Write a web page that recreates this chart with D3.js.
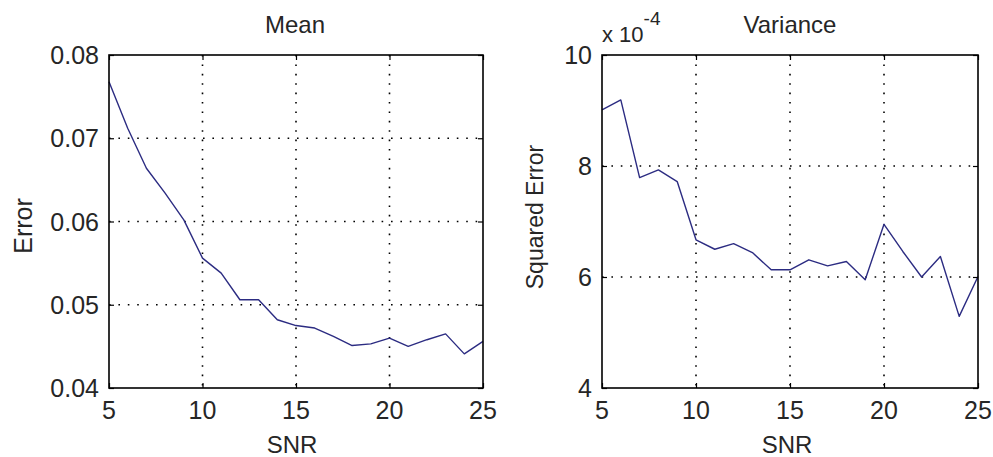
<!DOCTYPE html>
<html>
<head>
<meta charset="utf-8">
<script src="https://cdn.jsdelivr.net/npm/d3@7"></script>
<style>
  html, body { margin: 0; padding: 0; background: #fff; }
  svg { display: block; font-family: "Liberation Sans", Arial, sans-serif; }
</style>
</head>
<body>
<svg id="chart" width="993" height="457"></svg>
<script>
// SNR values shared by both panels
const snr = [5, 6, 7, 8, 9, 10, 11, 12, 13, 14, 15, 16, 17, 18, 19, 20, 21, 22, 23, 24, 25];

// Mean estimation error
const meanError = [0.0768, 0.0712, 0.0664, 0.0634, 0.0602, 0.0556, 0.0538, 0.0506, 0.0506, 0.0482,
                   0.0475, 0.0472, 0.0462, 0.0451, 0.0453, 0.0460, 0.0450, 0.0458, 0.0465, 0.0441, 0.0456];

// Variance estimation squared error
const varianceError = [9.01e-4, 9.19e-4, 7.79e-4, 7.93e-4, 7.72e-4, 6.67e-4, 6.50e-4, 6.60e-4, 6.44e-4, 6.13e-4,
                       6.13e-4, 6.31e-4, 6.20e-4, 6.28e-4, 5.95e-4, 6.95e-4, 6.46e-4, 6.00e-4, 6.37e-4, 5.29e-4, 6.01e-4];

// Tick values
const xTicks = [5, 10, 15, 20, 25];
const meanTicks = [0.04, 0.05, 0.06, 0.07, 0.08];
const varianceTicks = [4e-4, 6e-4, 8e-4, 10e-4];

const svg = d3.select("#chart");
const lineColor = "#2c2c82";
const textColor = "#262626";

function drawPanel(opt) {
  const { left, right, top, bottom } = opt.box;
  const w = right - left, h = bottom - top;
  const g = svg.append("g").attr("transform", `translate(${left},${top})`);

  const x = d3.scaleLinear().domain([5, 25]).range([0, w]);
  const y = d3.scaleLinear().domain(opt.yDomain).range([h, 0]);

  // dotted grid
  const gridX = xTicks.filter(t => t > 5 && t < 25);
  const gridY = opt.yTicks.slice(1, -1);
  g.append("g").selectAll("line").data(gridX).join("line")
    .attr("x1", d => x(d)).attr("x2", d => x(d))
    .attr("y1", 0).attr("y2", h)
    .attr("stroke", "#000").attr("stroke-width", 1.6)
    .attr("stroke-dasharray", "1.6 7.8");
  g.append("g").selectAll("line").data(gridY).join("line")
    .attr("x1", 0).attr("x2", w)
    .attr("y1", d => y(d)).attr("y2", d => y(d))
    .attr("stroke", "#000").attr("stroke-width", 1.6)
    .attr("stroke-dasharray", "1.6 7.8");

  // data line
  const line = d3.line().x((d, i) => x(snr[i])).y(d => y(d));
  g.append("path").datum(opt.values)
    .attr("d", line)
    .attr("fill", "none")
    .attr("stroke", lineColor)
    .attr("stroke-width", 1.4)
    .attr("stroke-linejoin", "round");

  // inward ticks on all four sides
  const tickStyle = sel => {
    sel.select(".domain").remove();
    sel.selectAll(".tick line").attr("stroke", "#000").attr("stroke-width", 1.2);
    sel.selectAll(".tick text").remove();
  };
  g.append("g").attr("transform", `translate(0,${h})`)
    .call(d3.axisBottom(x).tickValues(xTicks).tickSize(-5)).call(tickStyle);
  g.append("g")
    .call(d3.axisTop(x).tickValues(xTicks).tickSize(-5)).call(tickStyle);
  g.append("g")
    .call(d3.axisLeft(y).tickValues(opt.yTicks).tickSize(-5)).call(tickStyle);
  g.append("g").attr("transform", `translate(${w},0)`)
    .call(d3.axisRight(y).tickValues(opt.yTicks).tickSize(-5)).call(tickStyle);

  // axes box
  g.append("rect").attr("x", 0).attr("y", 0).attr("width", w).attr("height", h)
    .attr("fill", "none").attr("stroke", "#000").attr("stroke-width", 1.6);

  // tick labels
  g.append("g").selectAll("text").data(xTicks).join("text")
    .attr("x", d => x(d)).attr("y", h + 31)
    .attr("text-anchor", "middle")
    .attr("font-size", 25).attr("fill", textColor)
    .text(d => d);
  g.append("g").selectAll("text").data(opt.yTicks).join("text")
    .attr("x", -10).attr("y", d => y(d))
    .attr("dy", "0.36em")
    .attr("text-anchor", "end")
    .attr("font-size", 25).attr("fill", textColor)
    .text(opt.yFormat);

  // title
  svg.append("text")
    .attr("x", opt.titleX).attr("y", 33)
    .attr("text-anchor", "middle")
    .attr("font-size", 24).attr("fill", textColor)
    .text(opt.title);

  // x label
  svg.append("text")
    .attr("x", opt.xLabelX).attr("y", 453)
    .attr("text-anchor", "middle")
    .attr("font-size", 24).attr("fill", textColor)
    .text("SNR");

  // y label
  svg.append("text")
    .attr("transform", `translate(${opt.yLabelX},${opt.yLabelY}) rotate(-90)`)
    .attr("text-anchor", "middle")
    .attr("font-size", opt.yLabelSize).attr("fill", textColor)
    .text(opt.yLabel);
}

drawPanel({
  box: { left: 109, right: 483, top: 55, bottom: 388 },
  values: meanError,
  yDomain: [0.04, 0.08],
  yTicks: meanTicks,
  yFormat: d3.format(".2f"),
  title: "Mean",
  titleX: 295,
  xLabelX: 292,
  yLabel: "Error",
  yLabelX: 32,
  yLabelY: 226,
  yLabelSize: 25
});

drawPanel({
  box: { left: 602, right: 978, top: 55, bottom: 388 },
  values: varianceError,
  yDomain: [4e-4, 10e-4],
  yTicks: varianceTicks,
  yFormat: d => Math.round(d * 1e4),
  title: "Variance",
  titleX: 790,
  xLabelX: 787,
  yLabel: "Squared Error",
  yLabelX: 543,
  yLabelY: 217,
  yLabelSize: 23
});

// exponent multiplier for the variance axis
const mult = svg.append("text")
  .attr("x", 602).attr("y", 42)
  .attr("font-size", 22).attr("fill", textColor);
mult.append("tspan").text("x 10");
mult.append("tspan").attr("dy", -17).attr("font-size", 19).text("-4");
</script>
</body>
</html>
